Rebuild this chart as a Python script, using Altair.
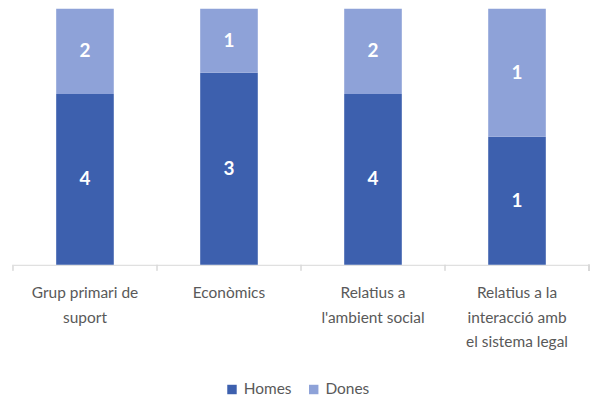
import altair as alt
import pandas as pd

categories = ["Grup primari de suport", "Econòmics", "Relatius a l'ambient social",
              "Relatius a la interacció amb el sistema legal"]
labels = ["Grup primari de|suport", "Econòmics", "Relatius a|l'ambient social",
          "Relatius a la|interacció amb|el sistema legal"]
series = ["Homes", "Dones"]
homes = [4, 3, 4, 1]
dones = [2, 1, 2, 1]

rows = []
for c, l, h, d in zip(categories, labels, homes, dones):
    rows.append({"category": l, "serie": "Homes", "value": h, "order": 0})
    rows.append({"category": l, "serie": "Dones", "value": d, "order": 1})
df = pd.DataFrame(rows)

FONT = "Lato"
colors = ["#3D60AE", "#8EA2D8"]
xscale = alt.Scale(paddingInner=0.6, paddingOuter=0.3)

base = alt.Chart(df).transform_stack(
    stack="value", groupby=["category"], as_=["y0", "y1"], offset="normalize",
    sort=[alt.SortField("order")]
).transform_calculate(mid="(datum.y0 + datum.y1) / 2")

bars = base.mark_bar().encode(
    x=alt.X("category:N", sort=labels, scale=xscale,
            axis=alt.Axis(title=None, labelAngle=0, labelExpr="split(datum.label, '|')",
                          labelFontSize=15.5, labelColor="#595959", labelFont=FONT,
                          labelPadding=21, labelLineHeight=24.5, labelBaseline="top",
                          domainColor="#D9D9D9", ticks=False)),
    y=alt.Y("y0:Q", scale=alt.Scale(domain=[0, 1]), axis=None),
    y2="y1:Q",
    color=alt.Color("serie:N", sort=series, scale=alt.Scale(domain=series, range=colors),
                    legend=alt.Legend(title=None, orient="none", direction="horizontal",
                                      legendX=212, legendY=374, symbolType="square",
                                      symbolSize=90, symbolStrokeWidth=0,
                                      labelFontSize=15.5, labelColor="#595959", labelFont=FONT,
                                      columnPadding=14, padding=0)),
)

text = base.mark_text(color="white", fontSize=19, fontWeight="bold", font=FONT).encode(
    x=alt.X("category:N", sort=labels),
    y=alt.Y("mid:Q"),
    text="value:Q",
)

ticks = alt.Chart(df).mark_rule(color="#D9D9D9", xOffset=-72.25).encode(
    x=alt.X("category:N", sort=labels),
    y=alt.value(257), y2=alt.value(263),
)

endtick = alt.Chart(df).mark_rule(color="#D9D9D9").encode(
    x=alt.value(578), y=alt.value(257), y2=alt.value(263)
)

chart = alt.layer(bars, text, ticks, endtick).properties(
    width=578, height=257,
    padding={"left": 4, "top": 0, "right": 3, "bottom": 5},
).configure_view(stroke=None)

chart.save("out.html", embed_options={"renderer": "svg", "actions": False})
